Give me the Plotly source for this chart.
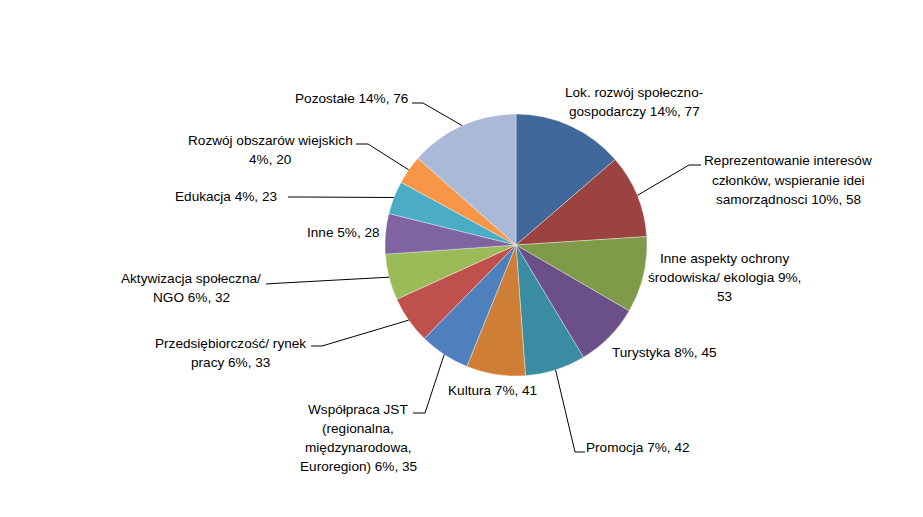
import math
import plotly.graph_objects as go

# ---- data ----
categories = [
    "Lok. rozwój społeczno-gospodarczy",
    "Reprezentowanie interesów członków, wspieranie idei samorządnosci",
    "Inne aspekty ochrony środowiska/ ekologia",
    "Turystyka",
    "Promocja",
    "Kultura",
    "Współpraca JST (regionalna, międzynarodowa, Euroregion)",
    "Przedsiębiorczość/ rynek pracy",
    "Aktywizacja społeczna/ NGO",
    "Inne",
    "Edukacja",
    "Rozwój obszarów wiejskich",
    "Pozostałe",
]
values = [77, 58, 53, 45, 42, 41, 35, 33, 32, 28, 23, 20, 76]
percents = [14, 10, 9, 8, 7, 7, 6, 6, 6, 5, 4, 4, 14]
label_lines = [
    ["Lok. rozwój społeczno-", "gospodarczy 14%, 77"],
    ["Reprezentowanie interesów", "członków, wspieranie idei", "samorządnosci 10%, 58"],
    ["Inne aspekty ochrony", "środowiska/ ekologia 9%,", "53"],
    ["Turystyka 8%, 45"],
    ["Promocja 7%, 42"],
    ["Kultura 7%, 41"],
    ["Współpraca JST", "(regionalna,", "międzynarodowa,", "Euroregion) 6%, 35"],
    ["Przedsiębiorczość/ rynek", "pracy 6%, 33"],
    ["Aktywizacja społeczna/", "NGO 6%, 32"],
    ["Inne 5%, 28"],
    ["Edukacja 4%, 23"],
    ["Rozwój obszarów wiejskich", "4%, 20"],
    ["Pozostałe 14%, 76"],
]
colors = ["#41689A", "#9C4240", "#7F9A48", "#6A4F88", "#3A8CA2", "#CF7E38",
          "#4E80BE", "#C0504D", "#9BBB59", "#8064A2", "#4BACC6", "#F79646", "#AAB9D7"]

# ---- layout (pixels) ----
W, H = 923, 517
CX, CY, R = 516, 245, 131
# label block centres (px)
label_pos = [(634, 102), (788, 180), (724, 277), (664, 352), (638, 447), (492, 390),
             (358, 438), (230, 353), (191, 288), (343, 233), (226, 196), (270, 150), (351, 98)]
# leader lines: (elbow, end) or None
leaders = [None, ((689, 165), (701, 165)), None, None, ((575, 452), (585, 452)), None,
           ((425, 413), (413, 413)), ((322, 346), (311, 346)), ((282, 283), (266, 284)),
           None, ((300, 197), (288, 197)), ((368, 144), (356, 144)), ((423, 103), (412, 103))]
LINE_H = 19
FS = 13.6

def px(x):
    return x / W

def py(y):
    return 1 - y / H

fig = go.Figure()
fig.add_trace(go.Pie(
    labels=categories, values=values, sort=False, direction="clockwise", rotation=0,
    marker=dict(colors=colors, line=dict(color="rgba(255,255,255,0.6)", width=0.6)),
    textinfo="none", hoverinfo="label+value+percent", showlegend=False,
    domain=dict(x=[px(CX - R), px(CX + R)], y=[py(CY + R), py(CY - R)]),
))

annotations = []
shapes = []
total = sum(values)
cum = 0
for i, v in enumerate(values):
    mid = (cum + v / 2) / total * 2 * math.pi
    cum += v
    ex = CX + R * math.sin(mid)
    ey = CY - R * math.cos(mid)
    lines = label_lines[i]
    lx, ly = label_pos[i]
    n = len(lines)
    for j, t in enumerate(lines):
        yy = ly + (j - (n - 1) / 2) * LINE_H
        annotations.append(dict(x=px(lx), y=py(yy), xref="paper", yref="paper", text=t,
                                showarrow=False, xanchor="center", yanchor="middle",
                                font=dict(family="Liberation Sans, Arial", size=FS, color="#000")))
    if leaders[i]:
        (bx, by), (fx, fy) = leaders[i]
        path = f"M {px(ex)} {py(ey)} L {px(bx)} {py(by)} L {px(fx)} {py(fy)}"
        shapes.append(dict(type="path", path=path, xref="paper", yref="paper",
                           line=dict(color="#000", width=1)))

fig.update_layout(
    width=W, height=H, margin=dict(l=0, r=0, t=0, b=0),
    paper_bgcolor="white", plot_bgcolor="white",
    annotations=annotations, shapes=shapes,
)
fig.write_html("out.html")
